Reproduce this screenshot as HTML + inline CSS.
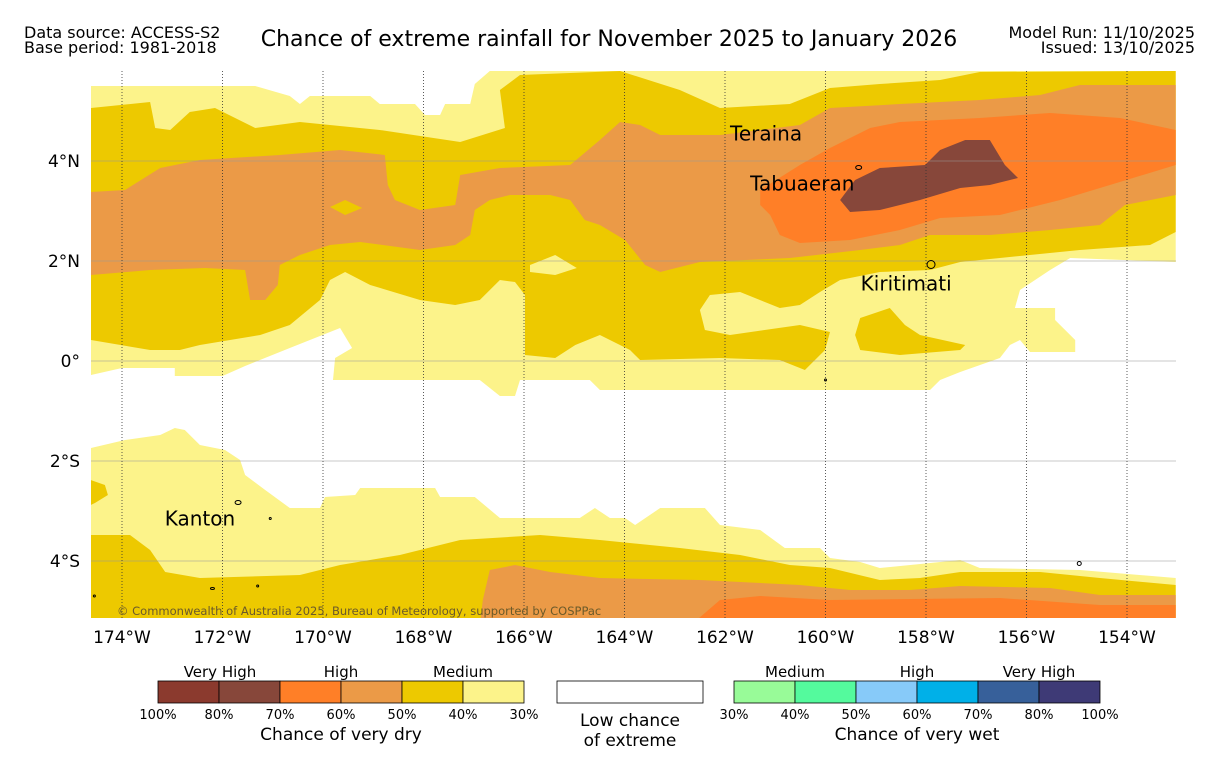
<!DOCTYPE html>
<html><head><meta charset="utf-8"><style>
html,body{margin:0;padding:0;background:#fff;width:1219px;height:758px;overflow:hidden;font-family:"Liberation Sans","DejaVu Sans",sans-serif}
svg{display:block}
svg text{font-family:"DejaVu Sans","Liberation Sans",sans-serif}
</style></head><body>
<svg id="chart" width="1219" height="758" viewBox="0 0 1219 758" xmlns="http://www.w3.org/2000/svg">
<text x="24" y="38" font-size="16">Data source: ACCESS-S2</text>
<text x="24" y="53" font-size="16">Base period: 1981-2018</text>
<text x="609" y="46" font-size="22" text-anchor="middle">Chance of extreme rainfall for November 2025 to January 2026</text>
<text x="1195" y="38" font-size="16" text-anchor="end">Model Run: 11/10/2025</text>
<text x="1195" y="53" font-size="16" text-anchor="end">Issued: 13/10/2025</text>
<defs><clipPath id="mc"><rect x="91" y="71" width="1085" height="547"/></clipPath></defs>
<g id="map" clip-path="url(#mc)"></g>
<g id="axes"></g>
<g id="legend"></g>
</svg>
<script>
const lonTicks=[-174,-172,-170,-168,-166,-164,-162,-160,-158,-156,-154];
const latTicks=[4,2,0,-2,-4];
const latLabels=["4°N","2°N","0°","2°S","4°S"];
const dryColors=["#8B3A2E","#87473A","#FF7F27","#EB9A47","#EDC900","#FCF38A"];
const wetColors=["#98FB98","#54FA9D","#87CAF9","#00B0E8","#37609A","#3E3A76"];
const dryTickLabels=["100%","80%","70%","60%","50%","40%","30%"];
const wetTickLabels=["30%","40%","50%","60%","70%","80%","100%"];
const lightYellowNorth=[[-174.62,5.5],[-171.35,5.5],[-170.66,5.3],[-170.46,5.14],[-170.26,5.3],[-169.06,5.3],[-168.87,5.14],[-168.17,5.14],[-167.97,4.92],[-167.67,4.92],[-167.57,5.14],[-167.07,5.14],[-166.98,5.54],[-166.68,5.8],[-153.03,5.8],[-153.03,1.98],[-155.13,2.06],[-155.53,1.82],[-156.13,1.42],[-156.23,1.06],[-155.43,1.06],[-155.43,0.82],[-155.03,0.42],[-155.03,0.18],[-155.93,0.18],[-156.13,0.42],[-156.33,0.32],[-156.53,0.06],[-157.32,-0.22],[-157.72,-0.38],[-157.92,-0.58],[-164.49,-0.58],[-164.69,-0.38],[-166.08,-0.38],[-166.18,-0.7],[-166.48,-0.7],[-166.88,-0.38],[-169.8,-0.38],[-169.76,0.06],[-169.42,0.26],[-169.66,0.66],[-170.66,0.26],[-171.55,-0.1],[-172.0,-0.3],[-172.95,-0.3],[-172.95,-0.14],[-174,-0.14],[-174.62,-0.28]];
const goldNorth=[[-174.62,5.06],[-173.44,5.18],[-173.34,4.66],[-173.04,4.62],[-172.65,4.98],[-172.15,5.06],[-171.35,4.66],[-170.46,4.78],[-168.87,4.62],[-167.27,4.38],[-166.38,4.66],[-166.48,5.42],[-166.08,5.72],[-164.09,5.8],[-162.9,5.42],[-162.1,5.06],[-160.71,5.14],[-159.91,5.46],[-158.92,5.54],[-157.72,5.62],[-156.93,5.78],[-153.03,5.8],[-153.03,2.58],[-153.54,2.32],[-154.94,2.22],[-156.53,2.06],[-157.32,1.98],[-157.92,1.82],[-158.92,1.78],[-159.71,1.62],[-160.11,1.38],[-160.51,1.12],[-160.91,1.06],[-161.70,1.38],[-162.30,1.32],[-162.50,1.02],[-162.40,0.62],[-161.90,0.52],[-160.51,0.72],[-159.91,0.58],[-160.01,0.22],[-160.41,-0.18],[-160.91,0.02],[-162.10,0.06],[-163.69,0.02],[-163.89,0.22],[-164.49,0.52],[-164.98,0.32],[-165.38,0.06],[-165.98,0.12],[-165.98,1.32],[-166.18,1.58],[-166.48,1.62],[-166.88,1.22],[-167.37,1.12],[-168.07,1.22],[-169.06,1.52],[-169.56,1.78],[-169.86,1.62],[-170.06,1.22],[-170.66,0.72],[-171.25,0.52],[-172.45,0.32],[-172.85,0.22],[-173.44,0.22],[-174.62,0.42]];
const goldIsland=[[-159.31,0.86],[-158.72,1.06],[-158.42,0.72],[-158.12,0.52],[-157.22,0.32],[-157.32,0.22],[-158.52,0.12],[-159.31,0.22],[-159.41,0.52]];
const yellowHole=[[-165.88,1.92],[-165.38,2.12],[-164.95,1.86],[-165.38,1.72],[-165.88,1.78]];
const lightOrangeNorth=[[-174.62,3.38],[-173.94,3.42],[-173.24,3.86],[-172.45,4.02],[-170.86,4.12],[-169.66,4.22],[-168.77,4.12],[-168.71,3.52],[-168.57,3.22],[-168.07,3.02],[-167.37,3.12],[-167.27,3.72],[-166.48,3.86],[-165.08,3.92],[-164.49,4.42],[-164.09,4.78],[-163.69,4.72],[-163.29,4.52],[-162.10,4.52],[-160.51,4.72],[-159.91,5.06],[-158.52,5.14],[-156.93,5.22],[-155.73,5.32],[-154.94,5.52],[-153.03,5.52],[-153.03,3.32],[-154.04,3.12],[-154.54,2.72],[-155.53,2.62],[-156.73,2.52],[-157.92,2.52],[-158.52,2.32],[-159.31,2.22],[-160.71,2.06],[-162.50,1.98],[-163.29,1.78],[-163.59,1.92],[-163.99,2.42],[-164.49,2.72],[-164.79,2.82],[-165.08,3.22],[-165.48,3.32],[-166.28,3.32],[-166.68,3.22],[-166.98,3.02],[-167.07,2.52],[-167.37,2.32],[-168.07,2.22],[-169.26,2.38],[-169.86,2.32],[-170.46,2.12],[-170.86,1.92],[-170.90,1.52],[-171.15,1.22],[-171.45,1.22],[-171.55,1.82],[-172.35,1.86],[-173.44,1.82],[-174.62,1.72]];
const goldSmall=[[-169.86,3.08],[-169.56,3.22],[-169.22,3.06],[-169.56,2.92]];
const orangeNorth=[[-161.30,3.42],[-160.51,3.92],[-159.91,4.26],[-159.11,4.66],[-158.52,4.78],[-156.93,4.86],[-155.53,4.96],[-154.14,4.86],[-153.03,4.62],[-153.03,3.92],[-154.34,3.52],[-155.33,3.22],[-156.53,2.92],[-157.72,2.86],[-158.52,2.62],[-159.51,2.42],[-160.51,2.36],[-160.91,2.52],[-161.10,2.92],[-161.30,3.12]];
const brownNorth=[[-159.71,3.22],[-159.41,3.62],[-158.92,3.86],[-158.02,3.92],[-157.72,4.22],[-157.22,4.42],[-156.73,4.42],[-156.43,3.92],[-156.17,3.66],[-156.73,3.52],[-157.32,3.46],[-158.12,3.22],[-158.92,3.02],[-159.51,2.98]];
const lightYellowSouth=[[-174.62,-1.74],[-173.94,-1.58],[-173.24,-1.48],[-172.95,-1.34],[-172.75,-1.38],[-172.45,-1.68],[-171.95,-1.78],[-171.65,-1.98],[-171.55,-2.28],[-171.15,-2.58],[-170.66,-2.94],[-170.06,-2.94],[-169.96,-2.72],[-169.36,-2.68],[-169.26,-2.54],[-167.77,-2.54],[-167.67,-2.72],[-166.98,-2.72],[-166.48,-3.14],[-164.89,-3.14],[-164.59,-2.94],[-164.29,-3.14],[-163.99,-3.14],[-163.79,-3.28],[-163.29,-2.94],[-162.40,-2.94],[-162.10,-3.28],[-161.30,-3.38],[-160.81,-3.74],[-160.11,-3.74],[-159.91,-3.94],[-159.31,-4.02],[-158.92,-4.14],[-157.32,-3.98],[-156.93,-4.14],[-154.94,-4.18],[-153.03,-4.34],[-153.03,-5.3],[-174.62,-5.3]];
const goldSouth=[[-174.62,-3.48],[-173.84,-3.48],[-173.44,-3.78],[-173.14,-4.22],[-172.45,-4.34],[-170.46,-4.28],[-169.66,-4.08],[-168.47,-3.88],[-167.27,-3.58],[-165.68,-3.48],[-164.49,-3.58],[-162.90,-3.74],[-161.70,-3.88],[-160.71,-4.08],[-159.91,-4.14],[-158.92,-4.38],[-158.12,-4.34],[-157.32,-4.22],[-155.73,-4.22],[-154.54,-4.34],[-153.03,-4.48],[-153.03,-5.3],[-174.62,-5.3]];
const goldPatch=[[-174.62,-2.38],[-174.34,-2.48],[-174.28,-2.68],[-174.54,-2.84],[-174.62,-2.88]];
const lightOrangeSouth=[[-166.88,-5.3],[-166.82,-4.78],[-166.68,-4.18],[-166.18,-4.08],[-165.48,-4.22],[-164.49,-4.34],[-162.50,-4.38],[-160.51,-4.48],[-159.51,-4.58],[-158.32,-4.58],[-157.32,-4.5],[-155.53,-4.54],[-154.54,-4.68],[-153.03,-4.68],[-153.03,-5.3]];
const orangeSouth=[[-162.70,-5.3],[-162.10,-4.78],[-161.30,-4.7],[-159.91,-4.78],[-156.53,-4.74],[-154.54,-4.88],[-153.03,-4.88],[-153.03,-5.3]];
const places=[["Teraina",-161.9,4.55],["Tabuaeran",-161.5,3.55],["Kiritimati",-159.3,1.55],["Kanton",-173.15,-3.15]];
const islands=[[-159.34,3.87,3,2],[-157.9,1.93,4,4],[-171.69,-2.83,3,2],[-171.05,-3.15,1,1],[-172.2,-4.55,2,1],[-171.3,-4.5,1,1],[-174.55,-4.7,1,1],[-154.95,-4.05,2,2],[-160.0,-0.38,1,1]];

const NS="http://www.w3.org/2000/svg";
const X=lon=>122+(lon+174)*50.25;
const Y=lat=>361-lat*50;
function mk(tag,parent,attrs){const e=document.createElementNS(NS,tag);for(const k in attrs)e.setAttribute(k,attrs[k]);parent.appendChild(e);return e;}
const map=document.getElementById('map');
function poly(pts,fill,name){
  const p=mk('polygon',map,{points:pts.map(q=>X(q[0]).toFixed(1)+','+Y(q[1]).toFixed(1)).join(' '),fill:fill});
  
  
}
poly(lightYellowNorth,dryColors[5],'region-30-40-north');
poly(goldNorth,dryColors[4],'region-40-50-north');
poly(goldIsland,dryColors[4],'region-40-50-island');
poly(yellowHole,dryColors[5],'region-30-40-patch');
poly(lightOrangeNorth,dryColors[3],'region-50-60-north');
poly(goldSmall,dryColors[4],'region-40-50-small');
poly(orangeNorth,dryColors[2],'region-60-70-north');
poly(brownNorth,dryColors[1],'region-70-80-north');
poly(lightYellowSouth,dryColors[5],'region-30-40-south');
poly(goldSouth,dryColors[4],'region-40-50-south');
poly(goldPatch,dryColors[4],'region-40-50-patch');
poly(lightOrangeSouth,dryColors[3],'region-50-60-south');
poly(orangeSouth,dryColors[2],'region-60-70-south');

const axes=document.getElementById('axes');
latTicks.forEach((v,i)=>{
  const l=mk('line',map,{x1:91,x2:1176,y1:Y(v),y2:Y(v),stroke:'#999','stroke-width':0.8,'stroke-opacity':0.7});
  
  
  const t=mk('text',axes,{x:80,y:Y(v)+6,'font-size':17,'text-anchor':'end'});t.textContent=latLabels[i];
  
  
});
lonTicks.forEach(v=>{
  const l=mk('line',map,{x1:X(v),x2:X(v),y1:71,y2:618,stroke:'#333','stroke-width':0.8,'stroke-dasharray':'1,2'});
  
  
  const t=mk('text',axes,{x:X(v),y:643,'font-size':17,'text-anchor':'middle'});t.textContent=Math.abs(v)+'°W';
  
  
});
islands.forEach(s=>{
  const e=mk('ellipse',map,{cx:X(s[0]),cy:Y(s[1]),rx:s[2],ry:s[3],fill:'none',stroke:'#000','stroke-width':1});
  
  
});
places.forEach(p=>{
  const t=mk('text',map,{x:X(p[1]),y:Y(p[2])+7,'font-size':20});t.textContent=p[0];
  
  
});
const c=mk('text',map,{x:117,y:615,'font-size':11.5,fill:'#6b5a2a'});c.textContent='© Commonwealth of Australia 2025, Bureau of Meteorology, supported by COSPPac';



const lg=document.getElementById('legend');
function txt(x,y,s,str,name){const t=mk('text',lg,{x:x,y:y,'font-size':s,'text-anchor':'middle'});t.textContent=str;
  
  }
const segW=61;
dryColors.forEach((col,i)=>{
  const r=mk('rect',lg,{x:158+i*segW,y:681,width:segW,height:22,fill:col,stroke:'#000','stroke-width':0.8});
  
  
});
wetColors.forEach((col,i)=>{
  const r=mk('rect',lg,{x:734+i*segW,y:681,width:segW,height:22,fill:col,stroke:'#000','stroke-width':0.8});
  
  
});
dryTickLabels.forEach((s,i)=>txt(158+i*segW,719,13,s,'dry-tick-label'));
wetTickLabels.forEach((s,i)=>txt(734+i*segW,719,13,s,'wet-tick-label'));
txt(220,677,15,'Very High','dry-very-high');txt(341,677,15,'High','dry-high');txt(463,677,15,'Medium','dry-medium');
txt(795,677,15,'Medium','wet-medium');txt(917,677,15,'High','wet-high');txt(1039,677,15,'Very High','wet-very-high');
txt(341,740,17,'Chance of very dry','dry-legend-title');txt(917,740,17,'Chance of very wet','wet-legend-title');
const wb=mk('rect',lg,{x:557,y:681,width:146,height:22,fill:'#fff',stroke:'#000','stroke-width':0.8});


txt(630,726,17,'Low chance','low-chance-label');txt(630,746,17,'of extreme','of-extreme-label');
</script>
</body></html>
